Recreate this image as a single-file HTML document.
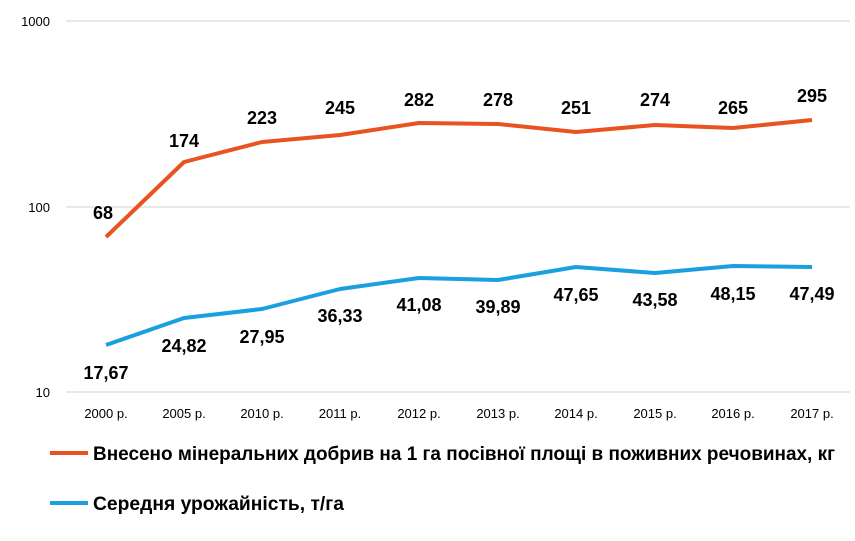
<!DOCTYPE html>
<html><head><meta charset="utf-8"><style>
body{margin:0;background:#fff;}
svg text{font-family:"Liberation Sans",sans-serif;}
</style></head><body>
<svg width="855" height="536" xmlns="http://www.w3.org/2000/svg">
<g stroke="#d9d9d9" stroke-width="1.3">
<line x1="66" y1="21" x2="850" y2="21"/>
<line x1="66" y1="207" x2="850" y2="207"/>
<line x1="66" y1="392" x2="850" y2="392"/>
</g>
<g font-size="13" fill="#000" text-anchor="end">
<text x="50" y="26">1000</text>
<text x="50" y="212">100</text>
<text x="50" y="397">10</text>
</g>
<g font-size="13" fill="#000" text-anchor="middle">
<text x="106" y="418">2000 р.</text><text x="184" y="418">2005 р.</text><text x="262" y="418">2010 р.</text><text x="340" y="418">2011 р.</text><text x="419" y="418">2012 р.</text><text x="498" y="418">2013 р.</text><text x="576" y="418">2014 р.</text><text x="655" y="418">2015 р.</text><text x="733" y="418">2016 р.</text><text x="812" y="418">2017 р.</text>
</g>
<polyline fill="none" stroke="#e8531f" stroke-width="4" stroke-linejoin="round" points="106,237 184,162 262,142 340,135 419,123 498,124 576,132 655,125 733,128 812,120"/>
<polyline fill="none" stroke="#1aa0de" stroke-width="4" stroke-linejoin="round" points="106,345 184,318 262,309 340,289 419,278 498,280 576,267 655,273 733,266 812,267"/>
<g font-size="18" font-weight="bold" fill="#000" text-anchor="middle">
<text x="103" y="219">68</text><text x="184" y="147">174</text><text x="262" y="124">223</text><text x="340" y="114">245</text><text x="419" y="106">282</text><text x="498" y="106">278</text><text x="576" y="114">251</text><text x="655" y="106">274</text><text x="733" y="114">265</text><text x="812" y="102">295</text>
<text x="106" y="379">17,67</text><text x="184" y="352">24,82</text><text x="262" y="343">27,95</text><text x="340" y="322">36,33</text><text x="419" y="311">41,08</text><text x="498" y="313">39,89</text><text x="576" y="301">47,65</text><text x="655" y="306">43,58</text><text x="733" y="300">48,15</text><text x="812" y="300">47,49</text>
</g>
<line x1="50" y1="453" x2="88" y2="453" stroke="#e8531f" stroke-width="4"/>
<line x1="50" y1="503" x2="88" y2="503" stroke="#1aa0de" stroke-width="4"/>
<g font-size="19" font-weight="bold" fill="#000">
<text x="93" y="460" textLength="742" lengthAdjust="spacingAndGlyphs">Внесено мінеральних добрив на 1 га посівної площі в поживних речовинах, кг</text>
<text x="93" y="510" textLength="251" lengthAdjust="spacingAndGlyphs">Середня урожайність, т/га</text>
</g>
</svg>
</body></html>
